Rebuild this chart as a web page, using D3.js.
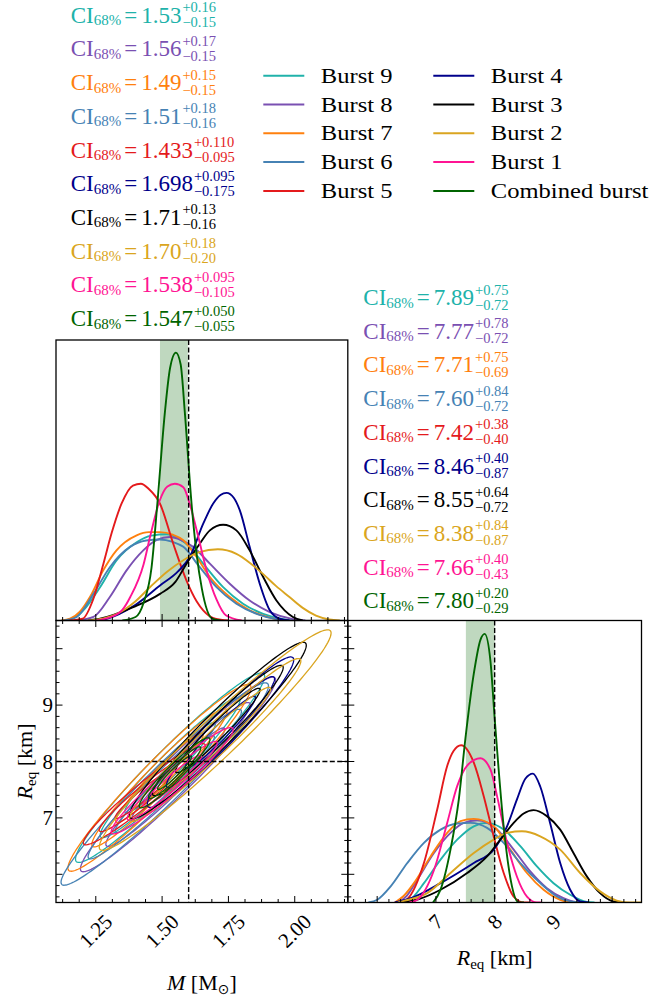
<!DOCTYPE html>
<html><head><meta charset="utf-8">
<script src="https://cdn.jsdelivr.net/npm/d3@7"></script>
<style>body{margin:0;background:#fff}</style>
</head><body>
<svg id="c" width="671" height="998" xmlns="http://www.w3.org/2000/svg"></svg>
<script>
// ---------------- data ----------------
const bursts = ["Burst 9","Burst 8","Burst 7","Burst 6","Burst 5","Burst 4","Burst 3","Burst 2","Burst 1","Combined burst"];
const colors = ["#20b2aa","#7a50b2","#ff800e","#4682b4","#e41a1c","#00008b","#000000","#daa520","#ff1493","#006400"];

// CI labels (mass)
const ciMassValue = ["1.53","1.56","1.49","1.51","1.433","1.698","1.71","1.70","1.538","1.547"];
const ciMassPlus  = ["+0.16","+0.17","+0.15","+0.18","+0.110","+0.095","+0.13","+0.18","+0.095","+0.050"];
const ciMassMinus = ["\u22120.15","\u22120.15","\u22120.15","\u22120.16","\u22120.095","\u22120.175","\u22120.16","\u22120.20","\u22120.105","\u22120.055"];
// CI labels (radius)
const ciRadValue = ["7.89","7.77","7.71","7.60","7.42","8.46","8.55","8.38","7.66","7.80"];
const ciRadPlus  = ["+0.75","+0.78","+0.75","+0.84","+0.38","+0.40","+0.64","+0.84","+0.40","+0.20"];
const ciRadMinus = ["\u22120.72","\u22120.72","\u22120.69","\u22120.72","\u22120.40","\u22120.87","\u22120.72","\u22120.87","\u22120.43","\u22120.29"];

// combined 68% intervals (shaded bands) and injected values (dashed lines)
const combinedMassBand = [1.492, 1.597];
const combinedRadBand = [7.51, 8.00];
const injectedMass = 1.6;
const injectedRad = 8.0;

// axes
const massDomain = [1.1, 2.2];
const radDomain = [5.5, 10.5];
const massMajor = [1.25, 1.5, 1.75, 2.0];
const massTickLabels = ["1.25","1.50","1.75","2.00"];
const massMinorStep = 0.0625;
const radMajor = [6, 7, 8, 9, 10];
const radLabelled = [7, 8, 9];
const radTickLabels = ["7","8","9"];
const radMinorStep = 0.2;
const massDensityMax = 8.0;
const radDensityMax = 1.75;

// 1D marginal densities in mass [M, density]
const mDens9 = [[1.13,0],[1.17,0.08],[1.203,0.29],[1.266,0.95],[1.328,1.71],[1.404,2.23],[1.46,2.42],[1.517,2.46],[1.56,2.35],[1.604,2.10],[1.655,1.62],[1.73,0.95],[1.805,0.48],[1.881,0.19],[1.956,0.04],[2.0,0]];
const mDens8 = [[1.18,0],[1.241,0.1],[1.303,0.67],[1.366,1.43],[1.429,2.0],[1.48,2.3],[1.529,2.38],[1.57,2.3],[1.617,2.10],[1.68,1.62],[1.755,1.05],[1.83,0.57],[1.906,0.24],[1.993,0.04],[2.04,0]];
const mDens7 = [[1.12,0],[1.153,0.05],[1.19,0.25],[1.228,0.67],[1.278,1.43],[1.328,2.0],[1.404,2.43],[1.45,2.52],[1.492,2.52],[1.54,2.45],[1.58,2.29],[1.630,1.81],[1.680,1.24],[1.755,0.67],[1.83,0.29],[1.906,0.08],[1.96,0]];
const mDens6 = [[1.13,0],[1.178,0.1],[1.241,0.76],[1.303,1.52],[1.379,2.1],[1.44,2.28],[1.492,2.31],[1.54,2.24],[1.58,2.10],[1.642,1.52],[1.705,0.95],[1.78,0.48],[1.856,0.19],[1.931,0.04],[1.98,0]];
const mDens5 = [[1.15,0],[1.20,0.05],[1.24,0.6],[1.278,1.6],[1.31,2.5],[1.347,3.33],[1.39,3.85],[1.42,3.9],[1.45,3.75],[1.492,3.33],[1.542,2.19],[1.592,1.14],[1.63,0.55],[1.655,0.29],[1.70,0.05],[1.75,0]];
const mDens4 = [[1.25,0],[1.291,0.05],[1.40,0.45],[1.492,1.0],[1.56,1.4],[1.604,1.81],[1.655,2.76],[1.692,3.33],[1.72,3.58],[1.743,3.64],[1.77,3.5],[1.793,3.14],[1.83,2.1],[1.868,1.05],[1.906,0.29],[1.943,0.05],[1.98,0]];
const mDens3 = [[1.22,0],[1.266,0.05],[1.391,0.38],[1.492,0.76],[1.55,1.1],[1.592,1.62],[1.642,2.19],[1.68,2.57],[1.73,2.73],[1.78,2.57],[1.83,2.0],[1.881,1.24],[1.931,0.57],[1.993,0.1],[2.03,0]];
const mDens2 = [[1.22,0],[1.28,0.06],[1.33,0.19],[1.40,0.55],[1.454,0.95],[1.52,1.4],[1.58,1.72],[1.64,1.95],[1.71,2.03],[1.78,1.9],[1.83,1.65],[1.88,1.33],[1.93,0.98],[1.98,0.67],[2.03,0.36],[2.08,0.14],[2.13,0.03],[2.17,0]];
const mDens1 = [[1.25,0],[1.30,0.08],[1.35,0.3],[1.38,0.67],[1.43,1.6],[1.455,2.4],[1.49,3.4],[1.52,3.82],[1.548,3.9],[1.58,3.8],[1.605,3.3],[1.636,2.4],[1.667,1.45],[1.705,0.6],[1.74,0.15],[1.80,0]];
const mDensC = [[1.35,0],[1.40,0.1],[1.43,0.5],[1.46,1.5],[1.482,3.33],[1.51,5.9],[1.53,7.2],[1.552,7.64],[1.57,7.3],[1.586,5.9],[1.611,3.33],[1.63,1.9],[1.65,0.9],[1.689,0.05],[1.72,0]];

// 1D marginal densities in radius [R_eq, density]
const rDens9 = [[6.45,0],[6.6,0.03],[6.796,0.12],[7.079,0.266],[7.362,0.39],[7.645,0.473],[7.871,0.494],[8.154,0.453],[8.437,0.35],[8.72,0.224],[9.003,0.12],[9.286,0.048],[9.568,0.004],[9.7,0]];
const rDens8 = [[6.35,0],[6.5,0.04],[6.683,0.141],[6.966,0.307],[7.249,0.432],[7.475,0.494],[7.701,0.51],[8.041,0.453],[8.324,0.328],[8.607,0.193],[8.89,0.089],[9.172,0.027],[9.399,0.002],[9.5,0]];
const rDens7 = [[6.3,0],[6.45,0.04],[6.626,0.12],[6.909,0.286],[7.192,0.432],[7.418,0.505],[7.645,0.519],[7.984,0.473],[8.267,0.328],[8.55,0.183],[8.833,0.079],[9.116,0.017],[9.342,0],[9.5,0]];
const rDens6 = [[5.85,0],[6.003,0.017],[6.23,0.1],[6.513,0.245],[6.796,0.37],[7.079,0.452],[7.362,0.49],[7.588,0.494],[7.871,0.463],[8.154,0.37],[8.437,0.245],[8.776,0.12],[9.06,0.037],[9.342,0.004],[9.5,0]];
const rDens5 = [[6.4,0],[6.513,0.02],[6.796,0.245],[7.022,0.577],[7.192,0.847],[7.3,0.94],[7.43,0.976],[7.645,0.868],[7.814,0.66],[7.984,0.41],[8.154,0.183],[8.324,0.037],[8.494,0],[8.6,0]];
const rDens4 = [[6.3,0],[6.6,0.03],[7.079,0.12],[7.645,0.245],[7.984,0.328],[8.211,0.473],[8.38,0.64],[8.522,0.768],[8.652,0.80],[8.776,0.72],[8.946,0.49],[9.116,0.245],[9.286,0.079],[9.455,0.006],[9.6,0]];
const rDens3 = [[6.4,0],[6.7,0.02],[7.079,0.079],[7.532,0.183],[7.871,0.286],[8.097,0.39],[8.324,0.494],[8.494,0.552],[8.663,0.573],[8.89,0.536],[9.116,0.452],[9.342,0.307],[9.569,0.162],[9.795,0.058],[10.021,0.006],[10.15,0]];
const rDens2 = [[6.35,0],[6.456,0.01],[6.852,0.058],[7.249,0.183],[7.645,0.307],[7.984,0.39],[8.211,0.432],[8.465,0.442],[8.776,0.411],[9.116,0.328],[9.455,0.183],[9.795,0.069],[10.078,0.012],[10.304,0],[10.5,0]];
const rDens1 = [[6.55,0],[6.683,0.017],[6.966,0.2],[7.192,0.494],[7.362,0.722],[7.532,0.85],[7.758,0.895],[7.928,0.826],[8.041,0.66],[8.211,0.37],[8.38,0.16],[8.55,0.037],[8.72,0],[8.8,0]];
const rDensC = [[6.95,0],[7.079,0.08],[7.249,0.33],[7.39,0.64],[7.503,1.02],[7.645,1.42],[7.758,1.63],[7.831,1.667],[7.928,1.5],[8.001,1.14],[8.154,0.47],[8.295,0.1],[8.409,0],[8.5,0]];

const massDensities = [mDens9, mDens8, mDens7, mDens6, mDens5, mDens4, mDens3, mDens2, mDens1, mDensC];
const radDensities = [rDens9, rDens8, rDens7, rDens6, rDens5, rDens4, rDens3, rDens2, rDens1, rDensC];

// 2D posterior contour summary (centre, widths, correlation) per burst
const centreM = [1.53, 1.56, 1.49, 1.51, 1.433, 1.72, 1.71, 1.70, 1.538, 1.547];
const centreR = [7.89, 7.77, 7.71, 7.60, 7.42, 8.52, 8.55, 8.38, 7.66, 7.80];
const widthM  = [0.155, 0.16, 0.15, 0.17, 0.10, 0.12, 0.145, 0.19, 0.10, 0.058];
const widthR  = [0.73, 0.75, 0.72, 0.78, 0.39, 0.58, 0.68, 0.85, 0.41, 0.27];
const corrMR  = [0.965, 0.97, 0.965, 0.97, 0.96, 0.96, 0.965, 0.97, 0.96, 0.95];
const contourLevels = [1.1, 1.7, 2.3];

// ---------------- layout ----------------
const svg = d3.select("#c");
const X0 = 56, X1 = 347.8, X2 = 641.5, Y0 = 340, Y1 = 620.5, Y2 = 902.5;
const serif = "'Liberation Serif','Times New Roman',serif";

const xM = d3.scaleLinear().domain(massDomain).range([X0, X1]);
const yR = d3.scaleLinear().domain(radDomain).range([Y2, Y1]);
const xR = d3.scaleLinear().domain(radDomain).range([X1, X2]);
const yDM = d3.scaleLinear().domain([0, massDensityMax]).range([Y1, Y0]);
const yDR = d3.scaleLinear().domain([0, radDensityMax]).range([Y2, Y1]);

const defs = svg.append("defs");
function clip(id, x, y, w, h) {
  defs.append("clipPath").attr("id", id).append("rect").attr("x", x).attr("y", y).attr("width", w).attr("height", h);
}
clip("cTL", X0, Y0, X1 - X0, Y1 - Y0);
clip("cBL", X0, Y1, X1 - X0, Y2 - Y1);
clip("cBR", X1, Y1, X2 - X1, Y2 - Y1);

// ---------- top-left: mass marginals ----------
const gTL = svg.append("g").attr("clip-path", "url(#cTL)");
gTL.append("rect").attr("x", xM(combinedMassBand[0])).attr("y", Y0)
  .attr("width", xM(combinedMassBand[1]) - xM(combinedMassBand[0])).attr("height", Y1 - Y0)
  .attr("fill", "#006400").attr("fill-opacity", 0.25);
const lineM = d3.line().x(d => xM(d[0])).y(d => yDM(d[1])).curve(d3.curveMonotoneX);
massDensities.forEach((s, i) => {
  gTL.append("path").attr("d", lineM(s)).attr("fill", "none").attr("stroke", colors[i]).attr("stroke-width", 1.9);
});
gTL.append("line").attr("x1", xM(injectedMass)).attr("x2", xM(injectedMass)).attr("y1", Y0).attr("y2", Y1)
  .attr("stroke", "#000").attr("stroke-width", 1.4).attr("stroke-dasharray", "5,2.4");

// ---------- bottom-left: 2D contours ----------
const gBL = svg.append("g").attr("clip-path", "url(#cBL)");
const line2 = d3.line().x(d => xM(d[0])).y(d => yR(d[1])).curve(d3.curveLinearClosed);
function contour(i, k) {
  const n = 160, s = Math.sqrt(1 - corrMR[i] * corrMR[i]);
  return d3.range(n).map(j => {
    const t = 2 * Math.PI * j / n, u = Math.cos(t), v = Math.sin(t);
    return [centreM[i] + k * widthM[i] * u, centreR[i] + k * widthR[i] * (corrMR[i] * u + s * v)];
  });
}
bursts.forEach((b, i) => {
  contourLevels.forEach(k => {
    gBL.append("path").attr("d", line2(contour(i, k))).attr("fill", "none")
      .attr("stroke", colors[i]).attr("stroke-width", 1.3);
  });
});
gBL.append("line").attr("x1", xM(injectedMass)).attr("x2", xM(injectedMass)).attr("y1", Y1).attr("y2", Y2)
  .attr("stroke", "#000").attr("stroke-width", 1.4).attr("stroke-dasharray", "5,2.4");
gBL.append("line").attr("x1", X0).attr("x2", X1).attr("y1", yR(injectedRad)).attr("y2", yR(injectedRad))
  .attr("stroke", "#000").attr("stroke-width", 1.4).attr("stroke-dasharray", "5,2.4");

// ---------- bottom-right: radius marginals ----------
const gBR = svg.append("g").attr("clip-path", "url(#cBR)");
gBR.append("rect").attr("x", xR(combinedRadBand[0])).attr("y", Y1)
  .attr("width", xR(combinedRadBand[1]) - xR(combinedRadBand[0])).attr("height", Y2 - Y1)
  .attr("fill", "#006400").attr("fill-opacity", 0.25);
const lineR = d3.line().x(d => xR(d[0])).y(d => yDR(d[1])).curve(d3.curveMonotoneX);
radDensities.forEach((s, i) => {
  gBR.append("path").attr("d", lineR(s)).attr("fill", "none").attr("stroke", colors[i]).attr("stroke-width", 1.9);
});
gBR.append("line").attr("x1", xR(injectedRad)).attr("x2", xR(injectedRad)).attr("y1", Y1).attr("y2", Y2)
  .attr("stroke", "#000").attr("stroke-width", 1.4).attr("stroke-dasharray", "5,2.4");

// ---------- frames and ticks ----------
const gAx = svg.append("g").attr("stroke", "#000").attr("fill", "none");
[[X0, Y0, X1, Y1], [X0, Y1, X1, Y2], [X1, Y1, X2, Y2]].forEach(r => {
  gAx.append("rect").attr("x", r[0]).attr("y", r[1]).attr("width", r[2] - r[0]).attr("height", r[3] - r[1]).attr("stroke-width", 1.3);
});
function minorVals(domain, step, majors) {
  const out = [];
  for (let v = Math.ceil(domain[0] / step) * step; v <= domain[1] + 1e-9; v += step) {
    const vv = Math.round(v * 10000) / 10000;
    if (vv > domain[0] && vv < domain[1] && !majors.some(m => Math.abs(m - vv) < 1e-6)) out.push(vv);
  }
  return out;
}
const massMinor = minorVals(massDomain, massMinorStep, massMajor);
const radMinor = minorVals(radDomain, radMinorStep, radMajor);
const MAJ = 6.5, MIN = 3.5;
function hTicks(scale, vals, y, dir, len) {
  vals.forEach(v => gAx.append("line").attr("x1", scale(v)).attr("x2", scale(v)).attr("y1", y).attr("y2", y + dir * len).attr("stroke-width", 1));
}
function vTicks(scale, vals, x, dir, len) {
  vals.forEach(v => gAx.append("line").attr("y1", scale(v)).attr("y2", scale(v)).attr("x1", x).attr("x2", x + dir * len).attr("stroke-width", 1));
}
// top-left: bottom ticks
hTicks(xM, massMajor, Y1, -1, MAJ); hTicks(xM, massMinor, Y1, -1, MIN);
// bottom-left: all four sides
hTicks(xM, massMajor, Y2, -1, MAJ); hTicks(xM, massMinor, Y2, -1, MIN);
hTicks(xM, massMajor, Y1, 1, MAJ); hTicks(xM, massMinor, Y1, 1, MIN);
vTicks(yR, radMajor, X0, 1, MAJ); vTicks(yR, radMinor, X0, 1, MIN);
vTicks(yR, radMajor, X1, -1, MAJ); vTicks(yR, radMinor, X1, -1, MIN);
// bottom-right: bottom and left
hTicks(xR, radMajor, Y2, -1, MAJ); hTicks(xR, radMinor, Y2, -1, MIN);
vTicks(yR, radMajor, X1, 1, MAJ); vTicks(yR, radMinor, X1, 1, MIN);

// ---------- tick labels ----------
const TFS = 21;
const gT = svg.append("g").attr("font-family", serif).attr("font-size", TFS).attr("fill", "#000");
function rotLabel(x, txt) {
  const t = gT.append("text").attr("text-anchor", "middle").attr("dominant-baseline", "central").text(txt);
  const L = t.node().getComputedTextLength();
  const cy = 913 + (L + 0.68 * TFS) / (2 * Math.SQRT2);
  t.attr("transform", `translate(${x},${cy}) rotate(-45)`);
}
massMajor.forEach((v, i) => rotLabel(xM(v), massTickLabels[i]));
radLabelled.forEach((v, i) => rotLabel(xR(v), radTickLabels[i]));
radLabelled.forEach((v, i) => {
  gT.append("text").attr("x", X0 - 3).attr("y", yR(v)).attr("text-anchor", "end")
    .attr("dominant-baseline", "central").text(radTickLabels[i]);
});

// ---------- axis labels ----------
function reqLabel(sel) {
  sel.append("tspan").attr("font-style", "italic").text("R");
  sel.append("tspan").attr("font-size", 15).attr("dy", 4).text("eq");
  sel.append("tspan").attr("dy", -4).text(" [km]");
}
const yl = svg.append("text").attr("font-family", serif).attr("font-size", 22).attr("text-anchor", "middle")
  .attr("transform", `translate(32,${(Y1 + Y2) / 2}) rotate(-90)`);
reqLabel(yl);
const xl2 = svg.append("text").attr("font-family", serif).attr("font-size", 22).attr("text-anchor", "middle")
  .attr("x", (X1 + X2) / 2).attr("y", 965);
reqLabel(xl2);
const xl1 = svg.append("text").attr("font-family", serif).attr("font-size", 22).attr("text-anchor", "middle")
  .attr("x", (X0 + X1) / 2).attr("y", 990);
xl1.append("tspan").attr("font-style", "italic").text("M");
xl1.append("tspan").text(" [M");
xl1.append("tspan").attr("font-family", "'DejaVu Sans',sans-serif").attr("font-size", 14).attr("dy", 4).text("\u2299");
xl1.append("tspan").attr("dy", -4).text("]");

// ---------- CI annotations ----------
function ciLabel(x, y, color, val, plus, minus) {
  const g = svg.append("g").attr("fill", color).attr("font-family", serif);
  const t = g.append("text").attr("x", x).attr("y", y).attr("font-size", 23);
  t.append("tspan").text("CI");
  t.append("tspan").attr("font-size", 15).attr("dy", 2.5).text("68%");
  t.append("tspan").attr("dy", -2.5).attr("dx", 3).text("=");
  t.append("tspan").attr("dx", 4).text(val);
  const bb = t.node().getBBox();
  const xe = bb.x + bb.width + 1;
  g.append("text").attr("x", xe).attr("y", y - 10.5).attr("font-size", 14.5).text(plus);
  g.append("text").attr("x", xe).attr("y", y + 4.5).attr("font-size", 14.5).text(minus);
}
bursts.forEach((b, i) => {
  ciLabel(70.7, 22.7 + i * 33.7, colors[i], ciMassValue[i], ciMassPlus[i], ciMassMinus[i]);
  ciLabel(363.3, 305 + i * 33.7, colors[i], ciRadValue[i], ciRadPlus[i], ciRadMinus[i]);
});

// ---------- legend ----------
const gL = svg.append("g").attr("font-family", serif).attr("font-size", 21);
bursts.forEach((b, i) => {
  const col = Math.floor(i / 5), row = i % 5;
  const lx = col === 0 ? 263.3 : 433.3;
  const ly = 75.7 + row * 28.8;
  gL.append("line").attr("x1", lx).attr("x2", lx + 41).attr("y1", ly).attr("y2", ly)
    .attr("stroke", colors[i]).attr("stroke-width", 2);
  const t = gL.append("text").attr("x", lx + 57.5).attr("y", ly + 7).attr("fill", "#000").text(b);
  const w = t.node().getComputedTextLength();
  t.attr("textLength", w * 1.17).attr("lengthAdjust", "spacingAndGlyphs");
});
</script>
</body></html>
